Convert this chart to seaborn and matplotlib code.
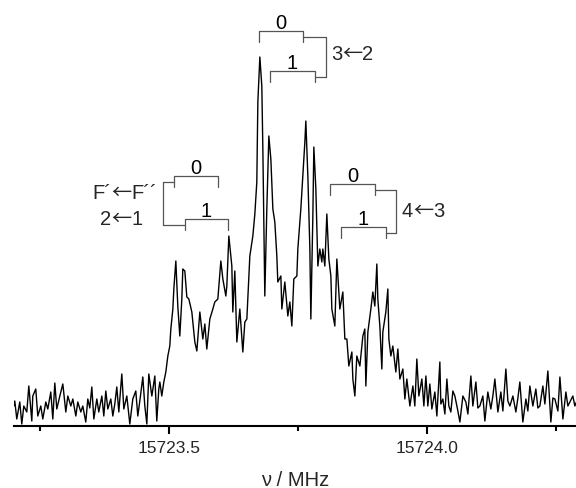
import matplotlib
matplotlib.use("Agg")
import matplotlib.pyplot as plt
from matplotlib.ticker import FixedLocator, MultipleLocator, FormatStrFormatter
from matplotlib.transforms import offset_copy
import seaborn as sns

# spectrum: frequency in MHz, intensity in arbitrary units
freq_mhz = [
    15723.1996, 15723.2015, 15723.2054, 15723.2112, 15723.2151, 15723.2190, 15723.2248, 15723.2287,
    15723.2345, 15723.2364, 15723.2422, 15723.2461, 15723.2519, 15723.2558, 15723.2616, 15723.2655,
    15723.2713, 15723.2752, 15723.2791, 15723.2829, 15723.2888, 15723.2946, 15723.3004, 15723.3043,
    15723.3101, 15723.3140, 15723.3198, 15723.3236, 15723.3295, 15723.3333, 15723.3391, 15723.3430,
    15723.3469, 15723.3508, 15723.3547, 15723.3605, 15723.3643, 15723.3702, 15723.3740, 15723.3779,
    15723.3818, 15723.3876, 15723.3915, 15723.3953, 15723.3992, 15723.4031, 15723.4089, 15723.4128,
    15723.4186, 15723.4244, 15723.4302, 15723.4360, 15723.4399, 15723.4438, 15723.4496, 15723.4535,
    15723.4574, 15723.4612, 15723.4671, 15723.4729, 15723.4767, 15723.4806, 15723.4826, 15723.4864,
    15723.4903, 15723.4942, 15723.4981,
    15723.5019, 15723.5039, 15723.5078, 15723.5097, 15723.5136, 15723.5174, 15723.5213, 15723.5252,
    15723.5271, 15723.5310, 15723.5349, 15723.5388, 15723.5446, 15723.5504, 15723.5543, 15723.5601,
    15723.5659, 15723.5698, 15723.5736, 15723.5795, 15723.5853, 15723.5891, 15723.5950, 15723.6008,
    15723.6047, 15723.6105, 15723.6124, 15723.6163, 15723.6221, 15723.6240, 15723.6279, 15723.6318,
    15723.6376, 15723.6434, 15723.6473, 15723.6512, 15723.6570, 15723.6628, 15723.6667, 15723.6705,
    15723.6725, 15723.6764, 15723.6802, 15723.6822, 15723.6860, 15723.6899, 15723.6938, 15723.6977,
    15723.7016, 15723.7054, 15723.7093, 15723.7112, 15723.7171, 15723.7190, 15723.7248, 15723.7306,
    15723.7345, 15723.7384, 15723.7422, 15723.7481, 15723.7500, 15723.7558, 15723.7597, 15723.7636,
    15723.7655, 15723.7694, 15723.7733, 15723.7752, 15723.7791, 15723.7810, 15723.7849, 15723.7888,
    15723.7926, 15723.7965, 15723.7984, 15723.8023, 15723.8062, 15723.8101, 15723.8140, 15723.8159,
    15723.8217, 15723.8256, 15723.8314, 15723.8372, 15723.8411, 15723.8450, 15723.8488, 15723.8547,
    15723.8566, 15723.8605, 15723.8643, 15723.8702, 15723.8760, 15723.8798, 15723.8818, 15723.8857,
    15723.8915, 15723.8953, 15723.8992, 15723.9031, 15723.9050, 15723.9089, 15723.9128, 15723.9147,
    15723.9205, 15723.9244, 15723.9264, 15723.9302, 15723.9341, 15723.9399, 15723.9438, 15723.9477,
    15723.9535, 15723.9574, 15723.9612, 15723.9671, 15723.9729, 15723.9767, 15723.9806, 15723.9845,
    15723.9903, 15723.9942, 15723.9981, 15724.0019,
    15724.0058, 15724.0097, 15724.0155, 15724.0194, 15724.0252, 15724.0271, 15724.0310, 15724.0349,
    15724.0388, 15724.0426, 15724.0465, 15724.0504, 15724.0543, 15724.0601, 15724.0640, 15724.0698,
    15724.0756, 15724.0795, 15724.0853, 15724.0891, 15724.0950, 15724.0988, 15724.1027, 15724.1085,
    15724.1124, 15724.1182, 15724.1240, 15724.1279, 15724.1318, 15724.1376, 15724.1434, 15724.1473,
    15724.1531, 15724.1570, 15724.1609, 15724.1667, 15724.1725, 15724.1764, 15724.1802, 15724.1860,
    15724.1919, 15724.1957, 15724.1996, 15724.2054, 15724.2112, 15724.2151, 15724.2190, 15724.2248,
    15724.2287, 15724.2345, 15724.2403, 15724.2442, 15724.2481, 15724.2539, 15724.2578, 15724.2636,
    15724.2694, 15724.2733, 15724.2771, 15724.2829, 15724.2868, 15724.2907,
]
intensity = [
    20, 25, 7, 24, 2, 20, 14, 40,
    5, 30, 37, 10, 20, 7, 24, 17,
    34, 7, 43, 17, 30, 42, 14, 30,
    20, 27, 10, 24, 14, 20, 4, 27,
    18, 39, 7, 27, 14, 30, 10, 35,
    17, 27, 10, 22, 39, 14, 52, 17,
    30, 2, 27, 35, 10, 25, 49, 20,
    2, 52, 30, 50, 5, 37, 44, 30,
    44, 54, 70,
    80, 97, 117, 137, 165, 120, 90, 127,
    157, 155, 129, 127, 114, 84, 75, 114,
    87, 102, 77, 107, 117, 124, 127, 165,
    147, 130, 140, 190, 160, 114, 155, 84,
    117, 74, 104, 107, 170, 190, 212, 244,
    324, 369, 340, 277, 130, 217, 290, 267,
    217, 204, 170, 144, 150, 117, 144, 110,
    124, 100, 147, 150, 177, 217, 250, 284,
    305, 250, 177, 107, 210, 279, 237, 160,
    177, 164, 177, 160, 212, 167, 150, 117,
    100, 167, 117, 134, 87, 87, 60, 74,
    47, 30, 70, 60, 90, 97, 40, 94,
    117, 134, 120, 162, 127, 100, 57, 94,
    114, 137, 87, 70, 80, 54, 77, 47,
    57, 27, 47, 20, 40, 20, 67, 30,
    47, 20, 50, 20,
    42, 17, 34, 10, 64, 22, 27, 12,
    47, 20, 14, 35, 30, 15, 4, 30,
    24, 12, 50, 20, 44, 18, 20, 30,
    5, 34, 17, 30, 47, 14, 34, 15,
    57, 25, 20, 30, 14, 28, 44, 4,
    27, 15, 40, 20, 37, 18, 20, 40,
    22, 55, 4, 28, 27, 15, 49, 7,
    34, 20, 24, 30, 20, 25,
]

# hyperfine assignment: transition J'<-J'', components F = 0 and 1
transitions = [("2", "1"), ("3", "2"), ("4", "3")]
header = ("F´", "F´´")
components = ["0", "1"]
comp_start = [[15723.510, 15723.531], [15723.675, 15723.696], [15723.813, 15723.833]]
comp_end = [[15723.596, 15723.615], [15723.760, 15723.783], [15723.899, 15723.921]]

sns.set_theme(style="white")
plt.rcParams["font.family"] = ["Liberation Sans", "DejaVu Sans"]

fig = plt.figure(figsize=(5.76, 4.89), dpi=100)
ax = fig.add_axes([14 / 576, 62 / 489, 562 / 576, 427 / 489])

sns.lineplot(x=freq_mhz, y=intensity, ax=ax, color="black", linewidth=1.0,
             estimator=None, sort=False)

ax.set_xlim(15723.20, 15724.289)
ax.set_ylim(0, 427)

# bracket layout (heights in intensity units)
heights = [[250, 207], [395, 355], [242, 199]]
join_x = [15723.489, 15723.804, 15723.941]
sides = ["left", "right", "right"]
leg = 11
gray = "#555555"
fs = 14.5

for g in range(3):
    mids = []
    for c in range(2):
        x0, x1, y = comp_start[g][c], comp_end[g][c], heights[g][c]
        ax.plot([x0, x0, x1, x1], [y - leg, y, y, y - leg], color=gray, lw=0.9)
        ax.text((x0 + x1) / 2, y + 3, components[c], ha="center", va="baseline",
                fontsize=fs, color="black")
        ym = y - leg / 2
        xa = x0 if sides[g] == "left" else x1
        ax.plot([xa, join_x[g]], [ym, ym], color=gray, lw=0.9)
        mids.append(ym)
    ax.plot([join_x[g], join_x[g]], mids, color=gray, lw=0.9)


def arrow_label(x, y, left, right, ha="left"):
    # "left ← right" with a long thin arrow taken from the CJK font
    renderer = fig.canvas.get_renderer()
    parts = [(left, ["Liberation Sans"]), ("←", ["Noto Sans CJK JP"]),
             (right, ["Liberation Sans"])]
    texts = []
    for s, fam in parts:
        t = ax.text(x, y, s, ha="left", va="baseline", fontsize=fs, family=fam)
        texts.append(t)
    widths = [t.get_window_extent(renderer).width for t in texts]
    total = sum(widths)
    start = 0 if ha == "left" else -total / 2
    pos = start
    for t, w in zip(texts, widths):
        t.set_transform(offset_copy(ax.transData, fig=fig, x=pos * 72 / fig.dpi,
                                    y=0, units="points"))
        pos += w


arrow_label(15723.4147, 228, header[0], header[1], ha="center")
arrow_label(15723.4079, 202, transitions[0][0], transitions[0][1], ha="center")
arrow_label(15723.814, 367, transitions[1][0], transitions[1][1])
arrow_label(15723.951, 210, transitions[2][0], transitions[2][1])

sns.despine(ax=ax, left=True)
ax.spines["bottom"].set_color("black")
ax.spines["bottom"].set_linewidth(1.5)
ax.set_yticks([])
ax.xaxis.set_major_locator(FixedLocator([15723.5, 15724.0]))
ax.xaxis.set_minor_locator(MultipleLocator(0.25))
ax.xaxis.set_major_formatter(FormatStrFormatter("%.1f"))
ax.tick_params(axis="x", which="major", direction="out", length=6, width=1.5,
               color="black", labelsize=12.5, pad=4, bottom=True)
ax.tick_params(axis="x", which="minor", direction="out", length=3.5, width=1.5,
               color="black", bottom=True)
ax.set_xlabel("ν / MHz", fontsize=fs, labelpad=11)
ax.set_ylabel("")

fig.savefig("out.png", dpi=100)
